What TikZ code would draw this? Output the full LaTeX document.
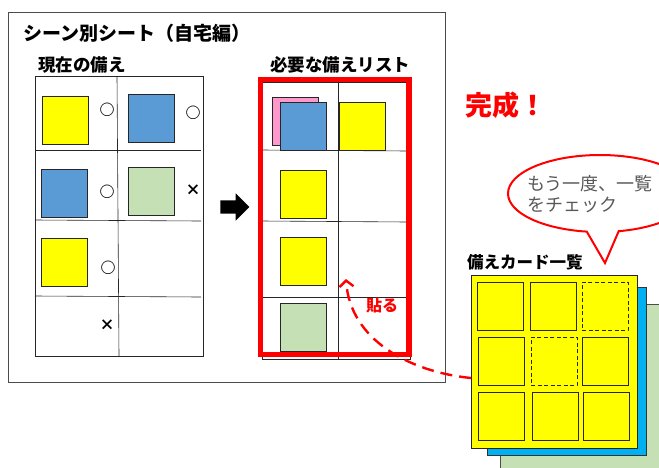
\documentclass[tikz,border=0pt]{standalone}
\usepackage{fontspec}
\setmainfont{Noto Sans CJK JP}
\usetikzlibrary{shapes.arrows,shapes.callouts,arrows.meta}
\definecolor{cardyellow}{HTML}{FFFF00}
\definecolor{cardblue}{HTML}{5B9BD5}
\definecolor{cardgreen}{HTML}{C5E0B4}
\definecolor{cardpink}{HTML}{FF99CC}
\definecolor{stackblue}{HTML}{00B0F0}
\definecolor{notegray}{HTML}{595959}

\begin{document}
\begin{tikzpicture}[x=1pt,y=-1pt]

    \tikzset{
      sq/.style={
        draw=black!85,
        line width=0.8pt,
        inner sep=0pt,
        minimum width=46pt,
        minimum height=48pt,
      },
      slot/.style={sq, dash pattern=on 4pt off 2.5pt},
      head/.style={font=\bfseries\fontsize{17.5}{20}\selectfont, inner sep=0pt, anchor=west},
      tickmark/.style={font=\bfseries\fontsize{15}{15}\selectfont, inner sep=0pt},
      gridline/.style={line width=0.6pt, black!85},
    }
    \useasboundingbox (0,0) rectangle (659,467);
    \clip (0,0) rectangle (659,467);

    % sheet
    \draw[line width=0.8pt, black!70] (8,12) rectangle (445,382);
    \node[font=\bfseries\fontsize{19}{22}\selectfont, inner sep=0pt, anchor=west] (title) at (23,33) {シーン別シート（自宅編）};
    \node[head] (nowhead) at (38,65) {現在の備え};
    \node[head] (needhead) at (270,65) {必要な備えリスト};

    % current stock
    \draw[gridline] (35,76) rectangle (203,356);
    \draw[gridline] (117,76)--(119,356);
    \draw[gridline] (35,150)--(201,150);
    \draw[gridline] (35,220)--(201,221);
    \draw[gridline] (35,296)--(201,297);
    \node[sq, fill=cardyellow] (now11) at (65,120.5) {};
    \node[sq, fill=cardblue] (now12) at (151,118) {};
    \node[sq, fill=cardblue] (now21) at (64.5,193) {};
    \node[sq, fill=cardgreen] (now22) at (151,191) {};
    \node[sq, fill=cardyellow] (now31) at (64.5,262) {};
    \node[tickmark] (ok11) at (107,110) {○};
    \node[tickmark] (ok12) at (193,113) {○};
    \node[tickmark] (ok21) at (107,192) {○};
    \node[tickmark] (ng22) at (193,190) {×};
    \node[tickmark] (ok31) at (108,268) {○};
    \node[tickmark] (ng41) at (107,325) {×};

    \node[single arrow, fill=black, inner sep=6.5pt, minimum height=29pt,
      single arrow head extend=7pt, single arrow tip angle=90] (goarrow) at (231.5,207) {};

    % needed list
    \draw[gridline] (262,82) rectangle (410,359);
    \draw[gridline] (338,82)--(338,360);
    \draw[gridline] (262,150)--(408,151);
    \draw[gridline] (262,221)--(408,222);
    \draw[gridline] (262,297)--(408,297);
    \draw[red, line width=5.5pt] (260.5,79.5) rectangle (409,354.5);
    \node[sq, fill=cardpink] (need11b) at (295,121) {};
    \node[sq, fill=cardblue] (need11) at (303,126) {};
    \node[sq, fill=cardyellow] (need12) at (362.5,126) {};
    \node[sq, fill=cardyellow] (need21) at (303,194) {};
    \node[sq, fill=cardyellow] (need31) at (303,261) {};
    \node[sq, fill=cardgreen] (need41) at (303.5,327) {};
    \node[text=red, font=\bfseries\fontsize{16}{18}\selectfont, inner sep=0pt] (paste) at (382,305) {貼る};

    \node[text=red, font=\bfseries\fontsize{27}{30}\selectfont, inner sep=0pt, anchor=west] (done) at (465,105) {完成！};

    % callout
    \node[ellipse callout, draw=red, line width=2pt, fill=white, minimum width=184pt, minimum height=77pt,
      callout pointer arc=20, callout absolute pointer={(605,263)}] (bubble) at (600,193.5) {};
    \node[text=notegray, font=\fontsize{18}{21}\selectfont, inner sep=0pt, anchor=west, align=left] (bubbletext) at (527,194) {もう一度、一覧\\をチェック};

    % card stack
    \node[font=\bfseries\fontsize{16.5}{19}\selectfont, inner sep=0pt, anchor=west] (stackhead) at (467,262) {備えカード一覧};
    \draw[black!70, line width=0.8pt, fill=cardgreen] (500,304) rectangle (700,500);
    \draw[black!80, line width=0.8pt, fill=stackblue] (487,287) rectangle (646,455);
    \node[draw=black!85, line width=0.8pt, fill=cardyellow, minimum width=166pt, minimum height=173pt] (card) at (554,361.5) {};
    \foreach \cx/\cy/\kind [count=\i] in {500/306/sq, 553.5/306/sq, 605/306/slot,
                                          501/361/sq, 554/361/slot, 605/361/sq,
                                          501.5/416.5/sq, 555/416.5/sq, 606/416.5/sq}
      \node[\kind, fill=cardyellow] (slot\i) at (\cx,\cy) {};

    \coordinate (pastefrom) at (471,378);
    \coordinate (pasteto) at (346,279);
    \draw[red, line width=2.4pt, dash pattern=on 12pt off 7pt, -{Straight Barb[length=6pt,width=14pt]}]
      (pastefrom) .. controls (410,372) and (350,340) .. (pasteto);

\end{tikzpicture}
\end{document}
